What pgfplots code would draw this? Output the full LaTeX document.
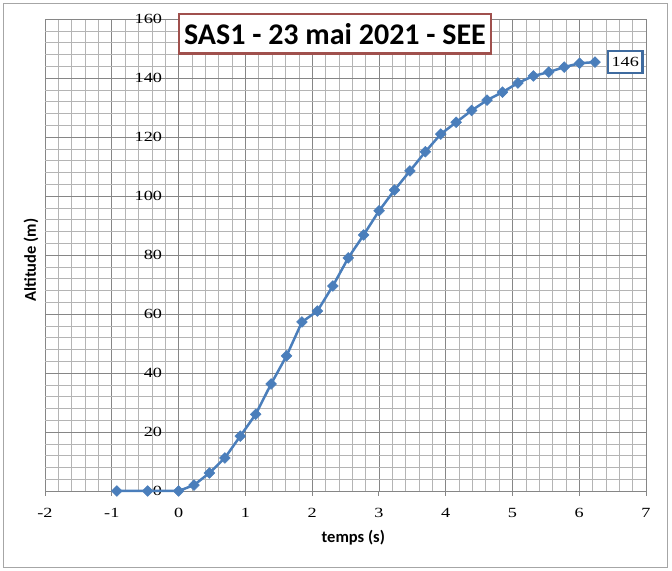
\documentclass[border=0pt]{standalone}
\usepackage{pgfplots}
\pgfplotsset{compat=1.18}
\usepackage{fontspec}
\setmainfont{Liberation Serif}
\newfontfamily\tickfont[FakeStretch=1.3]{Liberation Serif}
\newfontfamily\carlito{Carlito}
\definecolor{serie}{RGB}{74,126,187}
\definecolor{titbord}{RGB}{160,80,77}
\definecolor{majgrid}{RGB}{134,134,134}
\definecolor{mingrid}{RGB}{180,180,180}
\begin{document}
\begin{tikzpicture}
\begin{axis}[
  scale only axis,
  width=601pt, height=472pt,
  xmin=-2, xmax=7, ymin=0, ymax=160,
  axis y line=middle, axis x line=bottom,
  axis line style={-, draw=majgrid, line width=0.8pt},
  xtick={-2,...,7}, ytick={0,20,...,160},
  minor x tick num=4, minor y tick num=4,
  grid=both,
  major grid style={draw=majgrid, line width=0.7pt},
  minor grid style={draw=mingrid, line width=0.5pt},
  tick align=outside,
  major tick length=5pt, minor tick length=0pt,
  tick style={draw=majgrid, line width=0.8pt},
  hide obscured x ticks=false, hide obscured y ticks=false,
  /pgf/number format/assume math mode=true,
  ticklabel style={font=\tickfont\fontsize{14}{16}\selectfont},
  yticklabel style={anchor=east, xshift=-8pt},
  xticklabel style={anchor=north, yshift=-9pt},
  xlabel={\carlito\bfseries temps (s)},
  ylabel={\carlito\bfseries Altitude (m)},
  xlabel style={at={(rel axis cs:0.513,0)}, anchor=north, yshift=-36pt, font=\fontsize{16.5}{18}\selectfont},
  ylabel style={at={(rel axis cs:0,0.5)}, rotate=90, anchor=south, xshift=-5pt, yshift=3pt, font=\fontsize{16.5}{18}\selectfont},
  clip=false,
]
\addplot[color=serie, line width=2.5pt, mark=square*, mark size=3.8pt,
  mark options={rotate=45, fill=serie, draw=serie, line width=0.5pt}]
  coordinates {
  (-0.924,0) (-0.462,0) (0,0) (0.231,2) (0.462,6.1) (0.693,11.2) (0.924,18.6)
  (1.155,26) (1.386,36.3) (1.617,45.8) (1.848,57.3) (2.079,61) (2.31,69.5)
  (2.541,79) (2.772,86.8) (3.003,95) (3.234,102) (3.465,108.5) (3.696,115)
  (3.927,121) (4.158,125) (4.389,129) (4.62,132.5) (4.851,135.2) (5.082,138.3)
  (5.313,140.7) (5.544,142) (5.775,143.7) (6.006,145) (6.237,145.4)
  };
\node[draw=serie!85!black, line width=2.2pt, fill=white, inner xsep=3.5pt, inner ysep=6pt, anchor=west,
  font=\tickfont\fontsize{14}{16}\selectfont] at (axis cs:6.237,145.4) [xshift=12pt] {146};
\node[draw=titbord, line width=2.5pt, fill=white, inner xsep=5pt, inner ysep=9pt,
  font=\carlito\bfseries\fontsize{30}{32}\selectfont] at (rel axis cs:0.4825,0.969) {SAS1 - 23 mai 2021 - SEE};
\coordinate (BL) at (rel axis cs:-0.0749,-0.1695);
\coordinate (TR) at (rel axis cs:1.0433,1.0403);
\draw[draw=gray!70, line width=1pt] (rel axis cs:-0.0699,-0.1631) rectangle (rel axis cs:1.0366,1.0339);
\end{axis}
\pgfresetboundingbox
\path (BL) rectangle (TR);
\end{tikzpicture}
\end{document}
